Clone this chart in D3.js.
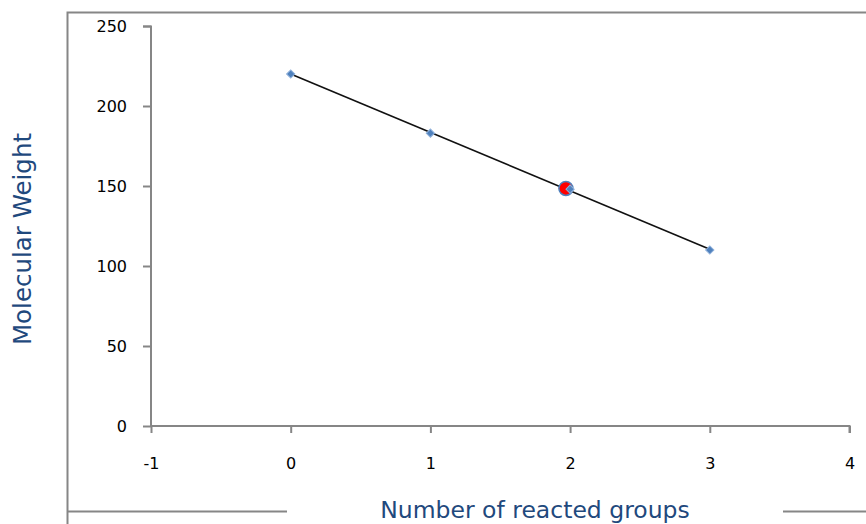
<!DOCTYPE html>
<html><head><meta charset="utf-8">
<script src="https://cdn.jsdelivr.net/npm/d3@7"></script>
<style>body{margin:0;background:#fff;}svg{display:block;}</style>
</head><body>
<svg id="c" width="866" height="524"></svg>
<script>
const xValues = [0, 1, 2, 3];
const yValues = [220, 183, 148, 110];
const highlightX = [1.97];
const highlightY = [148.5];
const xTicks = [-1, 0, 1, 2, 3, 4];
const yTicks = [0, 50, 100, 150, 200, 250];
const xTitle = "Number of reacted groups";
const yTitle = "Molecular Weight";

const svg = d3.select("#c");
const x = d3.scaleLinear().domain([-1, 4]).range([151, 849.5]);
const y = d3.scaleLinear().domain([0, 250]).range([426, 26]);
const grey = "#868686";
const fontF = "'DejaVu Sans', Verdana, sans-serif";

// outer frame
svg.append("path").attr("d", "M67.5,524 V12.5 H866").attr("fill","none").attr("stroke", grey).attr("stroke-width", 2);
svg.append("line").attr("x1",67).attr("x2",287).attr("y1",511.5).attr("y2",511.5).attr("stroke",grey).attr("stroke-width",2);
svg.append("line").attr("x1",783).attr("x2",866).attr("y1",511.5).attr("y2",511.5).attr("stroke",grey).attr("stroke-width",2);

// axes
const fmt = d => String(d);
const yAxis = d3.axisLeft(y).tickValues(yTicks).tickSize(8).tickPadding(16).tickFormat(fmt);
const gy = svg.append("g").attr("transform","translate(151,0)").call(yAxis);
const xAxis = d3.axisBottom(x).tickValues(xTicks).tickSize(7).tickPadding(25).tickFormat(fmt);
const gx = svg.append("g").attr("transform","translate(0,426)").call(xAxis);
[gx, gy].forEach(g => {
  g.select(".domain").attr("stroke", grey).attr("stroke-width", 2);
  g.selectAll(".tick line").attr("stroke", grey).attr("stroke-width", 2);
  g.selectAll("text").attr("fill","#000").style("font-family",fontF).style("font-size","16px");
});
gy.select(".domain").attr("d", "M-8,26.5H0V426");
gx.select(".domain").attr("d", "M151,0H849.5V7");

// trendline (least squares from data)
const mx = d3.mean(xValues), my = d3.mean(yValues);
const slope = d3.sum(xValues.map((v,i)=>(v-mx)*(yValues[i]-my))) / d3.sum(xValues.map(v=>(v-mx)*(v-mx)));
const icpt = my - slope*mx;
const xs = d3.extent(xValues);
svg.append("line")
  .attr("x1", x(xs[0])).attr("y1", y(icpt + slope*xs[0]))
  .attr("x2", x(xs[1])).attr("y2", y(icpt + slope*xs[1]))
  .attr("stroke","#111").attr("stroke-width",1.6);

// red highlight point
svg.selectAll(".hl").data(highlightX).enter().append("circle")
  .attr("cx", d=>x(d)).attr("cy", (d,i)=>y(highlightY[i])).attr("r", 7)
  .attr("fill","#ff0000").attr("stroke","#4f81bd").attr("stroke-width",1.5);

// data markers
svg.selectAll(".pt").data(xValues).enter().append("path")
  .attr("transform",(d,i)=>`translate(${x(d)},${y(yValues[i])}) rotate(45)`)
  .attr("d", d3.symbol().type(d3.symbolSquare).size(34))
  .attr("fill","#4f81bd").attr("stroke","#8fb0da").attr("stroke-width",1);

// titles
svg.append("text").attr("x", 535).attr("y", 517.5).attr("text-anchor","middle")
  .attr("fill","#1f497d").style("font-family",fontF).style("font-size","23.5px").text(xTitle);
svg.append("text").attr("transform","translate(31,239) rotate(-90)").attr("text-anchor","middle")
  .attr("fill","#1f497d").style("font-family",fontF).style("font-size","24.5px").text(yTitle);
</script>
</body></html>
